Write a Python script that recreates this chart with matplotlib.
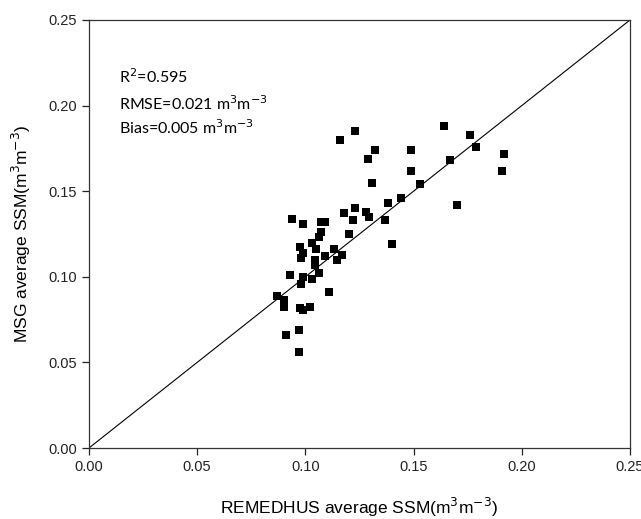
import matplotlib
matplotlib.use("Agg")
import matplotlib.pyplot as plt

remedhus = [0.164, 0.176, 0.179, 0.192, 0.191, 0.167, 0.170, 0.149, 0.149, 0.153,
            0.144, 0.138, 0.137, 0.140, 0.116, 0.123, 0.132, 0.129, 0.131, 0.118,
            0.123, 0.122, 0.128, 0.1295, 0.120, 0.117, 0.1145, 0.113, 0.111,
            0.094, 0.099, 0.107, 0.109, 0.107, 0.1065, 0.103, 0.0975, 0.099, 0.098,
            0.105, 0.1044, 0.109, 0.1044, 0.093, 0.099, 0.103, 0.1064, 0.098, 0.087,
            0.090, 0.090, 0.0975, 0.099, 0.102, 0.091, 0.097, 0.097]
msg = [0.188, 0.183, 0.176, 0.172, 0.162, 0.168, 0.142, 0.174, 0.162, 0.154,
       0.146, 0.143, 0.133, 0.119, 0.180, 0.185, 0.174, 0.169, 0.155, 0.137,
       0.140, 0.133, 0.138, 0.135, 0.125, 0.113, 0.110, 0.116, 0.091,
       0.134, 0.131, 0.132, 0.132, 0.126, 0.123, 0.1195, 0.1176, 0.114, 0.111,
       0.116, 0.110, 0.112, 0.107, 0.101, 0.100, 0.099, 0.102, 0.096, 0.089,
       0.0865, 0.0825, 0.0816, 0.0806, 0.0825, 0.066, 0.069, 0.056]
ticks = [0.00, 0.05, 0.10, 0.15, 0.20, 0.25]
tick_labels = ["0.00", "0.05", "0.10", "0.15", "0.20", "0.25"]
stats = ["R$^2$=0.595", "RMSE=0.021 m$^3$m$^{-3}$", "Bias=0.005 m$^3$m$^{-3}$"]

plt.rcParams['font.family'] = ['Liberation Sans', 'DejaVu Sans']
plt.rcParams['mathtext.fontset'] = 'custom'

fig = plt.figure(figsize=(6.41, 5.19), dpi=100)
ax = fig.add_axes([0.1388, 0.1368, 0.8440, 0.8247])

ax.plot([0, 0.25], [0, 0.25], color='black', lw=0.8, zorder=1)
ax.scatter(remedhus, msg, marker='s', s=38, color='black', zorder=2, linewidths=0)

ax.set_xlim(0, 0.25)
ax.set_ylim(0, 0.25)
ax.set_xticks(ticks)
ax.set_xticklabels(tick_labels)
ax.set_yticks(ticks)
ax.set_yticklabels(tick_labels)
ax.tick_params(direction='out', length=5, width=0.9, labelsize=10.5, colors='#222222')
for sp in ax.spines.values():
    sp.set_linewidth(0.9)
    sp.set_color('#333333')

ax.set_xlabel("REMEDHUS average SSM(m$^3$m$^{-3}$)", fontsize=12.5, labelpad=16)
ax.set_ylabel("MSG average SSM(m$^3$m$^{-3}$)", fontsize=12.5, labelpad=11)

ys = [0.867, 0.805, 0.749]
for t, yy in zip(stats, ys):
    ax.text(0.055, yy, t, transform=ax.transAxes, fontsize=11.5, va='center', ha='left',
            family=['Lato', 'DejaVu Sans'])

fig.savefig("out.png", dpi=100)
